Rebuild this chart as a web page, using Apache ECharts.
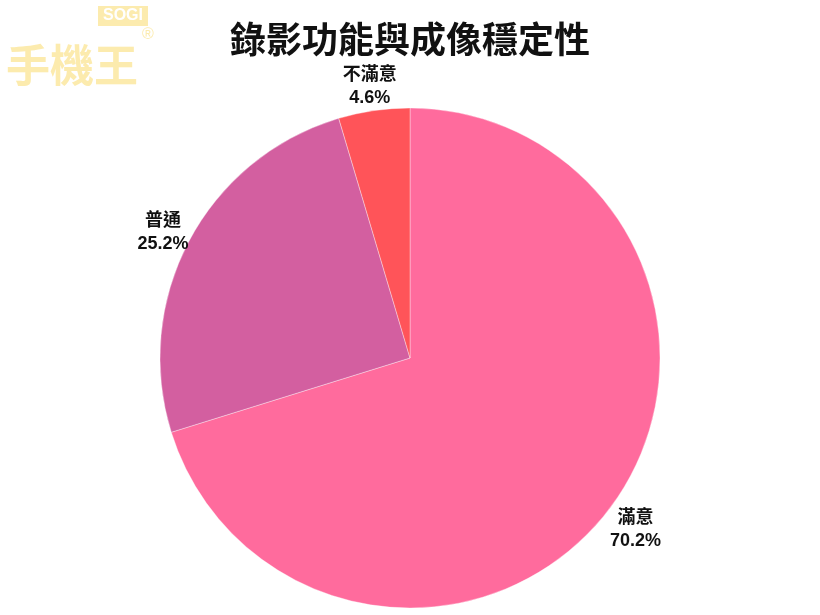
<!DOCTYPE html>
<html>
<head>
<meta charset="utf-8">
<script src="https://cdn.jsdelivr.net/npm/echarts@6/dist/echarts.min.js"></script>
<style>
html,body{margin:0;padding:0;background:#fff;}
#chart{width:820px;height:615px;}
</style>
</head>
<body>
<div id="chart"></div>
<script>
var titleText = '錄影功能與成像穩定性';
var categories = ['滿意', '普通', '不滿意'];
var values = [70.2, 25.2, 4.6];
var colors = ['#FF6B9D', '#D35FA0', '#FF5459'];

var chart = echarts.init(document.getElementById('chart'));
var font = 'Liberation Sans, "Noto Sans CJK TC", sans-serif';

var mainData = categories.map(function (c, i) {
  return { name: c, value: values[i], itemStyle: { color: colors[i] } };
});
var labelData = categories.map(function (c, i) {
  return { name: c, value: values[i] };
});

chart.setOption({
  backgroundColor: '#ffffff',
  animation: false,
  title: {
    text: titleText,
    left: 'center',
    top: 16,
    textStyle: { fontSize: 36, fontWeight: 'bold', color: '#111', fontFamily: '"Noto Sans CJK TC", sans-serif' }
  },
  graphic: [
    {
      type: 'group', left: 6, top: 6, silent: true,
      children: [
        { type: 'rect', shape: { x: 94, y: 3, width: 50, height: 20 }, style: { fill: '#FCEBAE' } },
        { type: 'text', style: { x: 119, y: 13, text: 'SOGI', fill: '#fff', font: 'bold 16px Liberation Sans', align: 'center', verticalAlign: 'middle' } },
        { type: 'text', style: { x: 144, y: 32, text: '®', fill: '#FCEBAE', font: '16px Liberation Sans', align: 'center', verticalAlign: 'middle' } },
        { type: 'text', style: { x: 2, y: 62, text: '手機王', fill: '#FCEBAE', font: 'bold 44px "Noto Sans CJK TC"', align: 'left', verticalAlign: 'middle' } }
      ]
    }
  ],
  series: [
    {
      type: 'pie',
      center: [410, 358],
      radius: [0, 250],
      startAngle: 90,
      clockwise: true,
      silent: true,
      label: { show: false },
      labelLine: { show: false },
      itemStyle: { borderColor: 'rgba(255,255,255,0.6)', borderWidth: 0.6 },
      data: mainData
    },
    {
      type: 'pie',
      center: [410, 364],
      radius: [252, 302],
      startAngle: 90,
      clockwise: true,
      silent: true,
      itemStyle: { color: 'rgba(0,0,0,0)' },
      emphasis: { disabled: true },
      label: {
        show: true,
        position: 'inside',
        formatter: function (p) { return p.name + '\n' + p.value.toFixed(1) + '%'; },
        fontFamily: font,
        fontSize: 18,
        fontWeight: 'bold',
        color: '#111',
        lineHeight: 23,
        align: 'center'
      },
      labelLine: { show: false },
      data: labelData
    }
  ]
});
</script>
</body>
</html>
